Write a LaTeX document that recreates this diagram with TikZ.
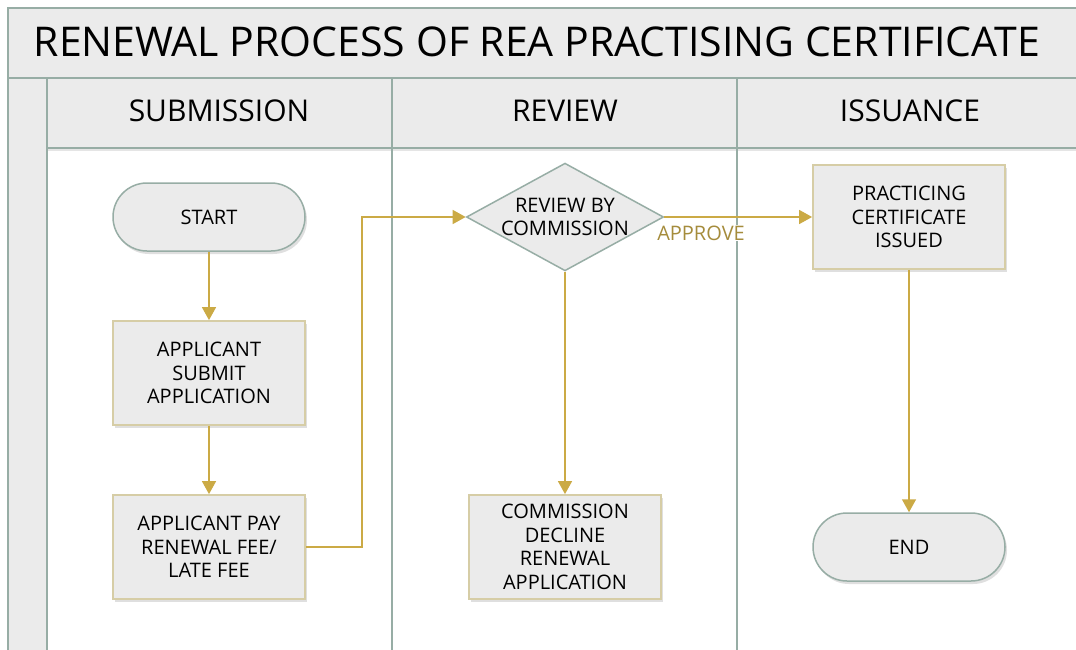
\documentclass[tikz,border=0pt]{standalone}
\usepackage{fontspec}
\setmainfont{Open Sans}
\usetikzlibrary{shapes.geometric,shadows,arrows.meta}

\definecolor{boxfill}{HTML}{EBEBEB}
\definecolor{boxedge}{HTML}{D6CDA6}
\definecolor{laneedge}{HTML}{97ADA5}
\definecolor{flowgold}{HTML}{CBAA45}
\definecolor{labelgold}{HTML}{A58C3C}

\tikzset{
    lane/.style={draw=laneedge,line width=1.2pt,fill=boxfill},
    procbox/.style={draw=boxedge,line width=1.8pt,fill=boxfill,minimum width=192pt,minimum height=104pt,
        align=center,font=\fontsize{20}{23.5}\selectfont,drop shadow={opacity=0.25,shadow xshift=2pt,shadow yshift=-3pt}},
    termbox/.style={draw=laneedge,line width=1.5pt,fill=boxfill,rounded corners=34pt,minimum width=192pt,minimum height=68pt,
        font=\fontsize{20}{23.5}\selectfont,drop shadow={opacity=0.25,shadow xshift=2pt,shadow yshift=-3pt}},
    decbox/.style={draw=laneedge,line width=1.5pt,fill=boxfill,diamond,aspect=1.83,inner sep=0pt,
        minimum width=190pt,minimum height=104pt,align=center,font=\fontsize{20}{23.5}\selectfont},
    flow/.style={draw=flowgold,line width=1.5pt,-{Triangle[length=13pt,width=14pt]}},
    lanetitle/.style={font=\fontsize{30}{32}\selectfont}
}

\begin{document}
\begin{tikzpicture}[x=1pt,y=-1pt]
    \useasboundingbox (0,0) rectangle (1076,650);
    % Pool and lanes
    \fill[white] (0,0) rectangle (1076,650);
    \draw[lane] (8,8) rectangle (1090,78);
    \draw[lane] (8,78) rectangle (47,660);
    \draw[lane,drop shadow={opacity=0.2,shadow xshift=0pt,shadow yshift=-3pt}] (47,78) rectangle (1090,148);
    \draw[laneedge,line width=1.5pt] (392,78) -- (392,660);
    \draw[laneedge,line width=1.5pt] (737,78) -- (737,660);
    \draw[laneedge,line width=1.2pt] (47,148) -- (47,660);

    % Titles
    \node (title) at (537,42) {\fontsize{41}{43}\selectfont RENEWAL PROCESS OF REA PRACTISING CERTIFICATE};
    \node[lanetitle] (submission) at (219,111) {SUBMISSION};
    \node[lanetitle] (review) at (565,111) {REVIEW};
    \node[lanetitle] (issuance) at (910,111) {ISSUANCE};

    % Steps
    \node[termbox] (start) at (209,217) {START};
    \node[procbox] (submit) at (209,373) {APPLICANT\\SUBMIT\\APPLICATION};
    \node[procbox] (pay) at (209,547) {APPLICANT PAY\\RENEWAL FEE/\\LATE FEE};
    \node[decbox] (check) at (565,217) {REVIEW BY\\COMMISSION};
    \node[procbox] (decline) at (565,547) {COMMISSION\\DECLINE\\RENEWAL\\APPLICATION};
    \node[procbox] (issued) at (909,217) {PRACTICING\\CERTIFICATE\\ISSUED};
    \node[termbox] (finish) at (909,547) {END};

    % Connectors
    \draw[flow] (start) -- (submit);
    \draw[flow] (submit) -- (pay);
    \draw[flow] (pay.east) -- (362,547) -- (362,217) -- (check.west);
    \draw[flow] (check.east) -- (issued.west);
    \node[fill=white,inner sep=1pt,text=labelgold,font=\fontsize{20}{22}\selectfont] (approve) at (701,233) {APPROVE};
    \draw[flow] (check.south) -- (decline.north);
    \draw[flow] (issued) -- (finish);
\end{tikzpicture}
\end{document}
